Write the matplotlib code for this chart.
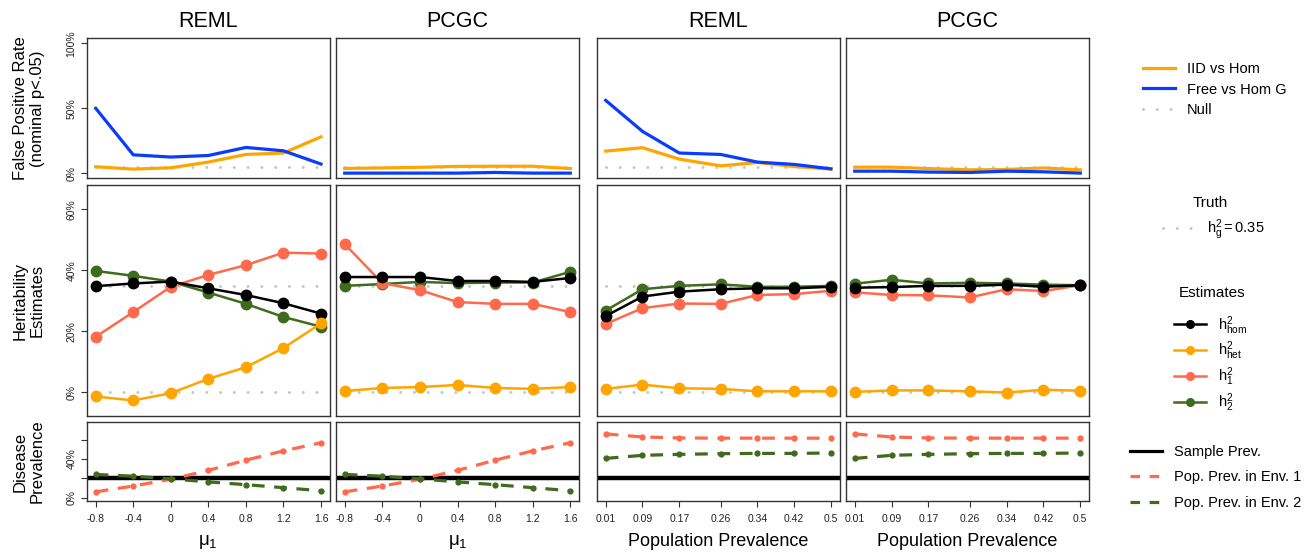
import matplotlib
matplotlib.use("Agg")
import matplotlib.pyplot as plt
from matplotlib.lines import Line2D

plt.rcParams['font.family'] = ['Liberation Sans', 'DejaVu Sans']
plt.rcParams['mathtext.fontset'] = 'custom'
plt.rcParams['mathtext.rm'] = 'Liberation Sans'
plt.rcParams['mathtext.it'] = 'Liberation Sans'
plt.rcParams['mathtext.bf'] = 'Liberation Sans:bold'

# x values
mu1 = [-0.8, -0.4, 0, 0.4, 0.8, 1.2, 1.6]
prev = [0.01, 0.09, 0.17, 0.26, 0.34, 0.42, 0.5]
mu1_labels = ['-0.8', '-0.4', '0', '0.4', '0.8', '1.2', '1.6']
prev_labels = ['0.01', '0.09', '0.17', '0.26', '0.34', '0.42', '0.5']
col_titles = ['REML', 'PCGC', 'REML', 'PCGC']
row_labels = ['False Positive Rate\n(nominal p<.05)', 'Heritability\nEstimates',
              'Disease\nPrevalence']

# false positive rates (%)
fpr_iid = [
    [4.9, 3.1, 4.1, 8.5, 14.4, 15.5, 28.0],
    [3.6, 4.0, 4.5, 5.2, 5.3, 5.3, 3.5],
    [17.0, 19.6, 10.8, 5.6, 8.2, 5.1, 3.1],
    [4.6, 4.6, 3.5, 2.5, 2.8, 4.0, 2.5],
]
fpr_free = [
    [50.0, 14.1, 12.4, 13.6, 19.8, 17.2, 7.0],
    [0.0, 0.0, 0.0, 0.0, 0.5, 0.0, 0.0],
    [56.1, 32.2, 15.5, 14.4, 8.5, 6.7, 3.3],
    [1.5, 1.5, 0.8, 0.5, 1.5, 1.0, 0.0],
]
null_rate = 5.0

# heritability estimates (%)
h_hom = [
    [34.8, 35.7, 36.3, 34.1, 31.9, 29.2, 25.8],
    [37.8, 37.8, 37.8, 36.5, 36.5, 36.2, 37.5],
    [25.0, 31.4, 33.0, 33.8, 34.1, 34.1, 34.6],
    [34.3, 34.5, 34.9, 34.9, 35.3, 34.6, 35.1],
]
h_het = [
    [-1.4, -2.7, -0.3, 4.4, 8.2, 14.5, 22.6],
    [0.4, 1.4, 1.7, 2.4, 1.4, 1.1, 1.7],
    [1.1, 2.5, 1.3, 1.1, 0.3, 0.3, 0.3],
    [0.1, 0.6, 0.6, 0.3, -0.1, 0.8, 0.5],
]
h_1 = [
    [18.2, 26.3, 34.6, 38.5, 41.7, 45.8, 45.5],
    [48.6, 35.8, 33.5, 29.6, 29.0, 29.0, 26.3],
    [22.4, 27.6, 29.1, 29.0, 31.9, 32.2, 33.3],
    [32.8, 31.9, 31.8, 31.1, 33.8, 33.2, 35.1],
]
h_2 = [
    [39.8, 38.2, 36.3, 32.7, 29.0, 24.7, 21.5],
    [34.9, 35.5, 36.2, 35.8, 36.0, 36.0, 39.5],
    [26.8, 33.8, 34.9, 35.4, 34.6, 34.6, 34.9],
    [35.6, 36.9, 35.7, 35.9, 35.7, 35.3, 35.1],
]
truth_h = 35.0

# disease prevalence (%)
sample_prev = 20.0
pop_env1 = [
    [6.0, 12.0, 19.0, 28.2, 38.8, 48.4, 56.8],
    [6.0, 12.0, 19.0, 28.2, 38.8, 48.4, 56.8],
    [66.0, 62.8, 61.8, 61.6, 61.6, 61.6, 61.6],
    [66.0, 62.8, 61.8, 61.6, 61.6, 61.6, 61.6],
]
pop_env2 = [
    [24.0, 22.2, 19.4, 16.3, 13.4, 10.3, 7.1],
    [24.0, 22.2, 19.4, 16.3, 13.4, 10.3, 7.1],
    [40.6, 43.8, 44.8, 45.5, 45.8, 45.8, 46.2],
    [40.6, 43.8, 44.8, 45.5, 45.8, 45.8, 46.2],
]

ORANGE = '#FFA500'
BLUE = '#0A3CFF'
RED = '#FF6A4D'
GREEN = '#3F6B1E'
GREY = '#C8C8C8'
FRAME = '#333333'

W, H = 1306, 552
fig = plt.figure(figsize=(W / 100, H / 100), dpi=100)

col_x = [(86.7, 330), (335.7, 579.3), (596.7, 840), (845.7, 1089.3)]
row_y = [(38.3, 178.3), (185.3, 416), (422.3, 501)]


def make_ax(c, r):
    x0, x1 = col_x[c]
    y0, y1 = row_y[r]
    ax = fig.add_axes([x0 / W, 1 - y1 / H, (x1 - x0) / W, (y1 - y0) / H])
    for s in ax.spines.values():
        s.set_color(FRAME)
        s.set_linewidth(1.0)
    ax.tick_params(direction='out', length=4, width=0.8, colors='#333333',
                   labelsize=7.5, labelcolor='#222222')
    return ax


dot_style = dict(color=GREY, lw=2.2, linestyle=(0, (0.01, 4.5)),
                 dash_capstyle='round', solid_capstyle='round')

for c in range(4):
    xs = mu1 if c < 2 else prev
    xlim = (-0.896, 1.696) if c < 2 else (-0.0096, 0.5196)
    xlabs = mu1_labels if c < 2 else prev_labels

    # top row: false positive rate
    ax = make_ax(c, 0)
    ax.plot([xs[0], xs[-1]], [null_rate / 100] * 2, **dot_style)
    ax.plot(xs, [v / 100 for v in fpr_iid[c]], color=ORANGE, lw=2.3)
    ax.plot(xs, [v / 100 for v in fpr_free[c]], color=BLUE, lw=2.3)
    ax.set_xlim(xlim)
    ax.set_ylim(-0.04, 1.04)
    ax.set_xticks([])
    ax.set_title(col_titles[c], fontsize=15.5, pad=8)
    if c == 0:
        ax.set_yticks([0, 0.5, 1.0])
        ax.set_yticklabels(['0%', '50%', '100%'], rotation=90, va='center')
    else:
        ax.set_yticks([])

    # middle row: heritability estimates
    ax = make_ax(c, 1)
    ax.plot([xs[0], xs[-1]], [truth_h / 100] * 2, **dot_style)
    ax.plot([xs[0], xs[-1]], [0, 0], **dot_style)
    for vals, col, z in [(h_2[c], GREEN, 2), (h_1[c], RED, 3),
                         (h_hom[c], 'black', 4), (h_het[c], ORANGE, 5)]:
        ax.plot(xs, [v / 100 for v in vals], color=col, lw=1.8, marker='o',
                markersize=7.5, zorder=z)
    ax.set_xlim(xlim)
    ax.set_ylim(-0.078, 0.679)
    ax.set_xticks([])
    if c == 0:
        ax.set_yticks([0, 0.2, 0.4, 0.6])
        ax.set_yticklabels(['0%', '20%', '40%', '60%'], rotation=90, va='center')
    else:
        ax.set_yticks([])

    # bottom row: disease prevalence
    ax = make_ax(c, 2)
    ax.axhline(sample_prev / 100, color='black', lw=3.2, zorder=2)
    ax.plot(xs, [v / 100 for v in pop_env1[c]], color=RED, lw=2.3,
            linestyle=(0, (4, 3)), marker='o', markersize=3.5, zorder=3)
    ax.plot(xs, [v / 100 for v in pop_env2[c]], color=GREEN, lw=2.3,
            linestyle=(0, (4, 3)), marker='o', markersize=3.5, zorder=3)
    ax.set_xlim(xlim)
    ax.set_ylim(-0.035, 0.78)
    ax.set_xticks(xs)
    ax.set_xticklabels(xlabs)
    ax.tick_params(axis='x', pad=5)
    if c < 2:
        ax.set_xlabel(r'$\mathregular{\mu_1}$', fontsize=13.5, labelpad=7)
    else:
        ax.set_xlabel('Population Prevalence', fontsize=13, labelpad=7)
    if c == 0:
        ax.set_yticks([0, 0.2, 0.4, 0.6])
        ax.set_yticklabels(['0%', '', '40%', ''], rotation=90, va='center')
    else:
        ax.set_yticks([])

# row labels
for r, lab in enumerate(row_labels):
    y0, y1 = row_y[r]
    fig.text(29 / W, 1 - (y0 + y1) / 2 / H, lab, rotation=90, ha='center',
             va='center', fontsize=12, linespacing=1.15)

# legends
leg_kw = dict(frameon=False, fontsize=10.5, loc='upper left', handlelength=2.2,
              handletextpad=0.8, borderaxespad=0, borderpad=0)

h1 = [Line2D([], [], color=ORANGE, lw=2.3),
      Line2D([], [], color=BLUE, lw=2.3),
      Line2D([], [], **dot_style)]
fig.legend(h1, ['IID vs Hom', 'Free vs Hom G', 'Null'],
           bbox_to_anchor=(1143 / W, 1 - 62 / H), labelspacing=0.45, **leg_kw)

fig.text(1210 / W, 1 - 203 / H, 'Truth', ha='center', va='center', fontsize=11)
h2 = [Line2D([], [], **dot_style)]
fig.legend(h2, [r'$\mathregular{h^2_g = 0.35}$'],
           bbox_to_anchor=(1163 / W, 1 - 218 / H), **leg_kw)

fig.text(1212 / W, 1 - 293 / H, 'Estimates', ha='center', va='center',
         fontsize=11)
h3 = [Line2D([], [], color=col, lw=1.8, marker='o', markersize=5.5)
      for col in ['black', ORANGE, RED, GREEN]]
fig.legend(h3, [r'$\mathregular{h^2_{hom}}$', r'$\mathregular{h^2_{het}}$',
                r'$\mathregular{h^2_1}$', r'$\mathregular{h^2_2}$'],
           bbox_to_anchor=(1174 / W, 1 - 314 / H), labelspacing=0.22,
           **leg_kw)

h4 = [Line2D([], [], color='black', lw=2.3),
      Line2D([], [], color=RED, lw=2.3, linestyle=(0, (3, 3))),
      Line2D([], [], color=GREEN, lw=2.3, linestyle=(0, (3, 3)))]
fig.legend(h4, ['Sample Prev.', 'Pop. Prev. in Env. 1', 'Pop. Prev. in Env. 2'],
           bbox_to_anchor=(1130 / W, 1 - 445 / H), labelspacing=0.78, **leg_kw)

fig.savefig('out.png', dpi=100)
